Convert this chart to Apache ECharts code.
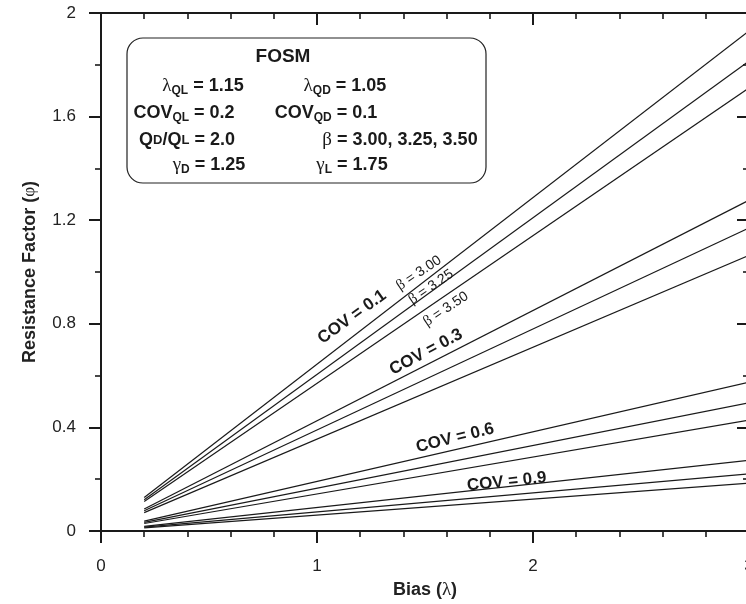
<!DOCTYPE html>
<html><head><meta charset="utf-8">
<script src="https://cdn.jsdelivr.net/npm/echarts@6/dist/echarts.min.js"></script>
<style>html,body{margin:0;padding:0;background:#fff}#c{width:746px;height:604px}</style>
</head><body><div id="c"></div>
<script>
// ---- data ----
const covLevels = ['0.1', '0.3', '0.6', '0.9'];
const betaLevels = ['3.00', '3.25', '3.50'];
const biasPoints = [0.2, 3.0];               // start / end of every curve
// phi at bias = 0.2 for beta = 3.00, 3.25, 3.50
const phiStartCOV01 = [0.129, 0.121, 0.114];
const phiStartCOV03 = [0.085, 0.078, 0.071];
const phiStartCOV06 = [0.038, 0.033, 0.029];
const phiStartCOV09 = [0.018, 0.015, 0.012];
// phi at bias = 3.0 for beta = 3.00, 3.25, 3.50
const phiEndCOV01 = [1.931, 1.814, 1.711];
const phiEndCOV03 = [1.277, 1.170, 1.064];
const phiEndCOV06 = [0.575, 0.495, 0.428];
const phiEndCOV09 = [0.273, 0.221, 0.185];
const xTicks = [0, 1, 2, 3];
const yTicks = ['0', '0.4', '0.8', '1.2', '1.6', '2'];

const phiStart = [phiStartCOV01, phiStartCOV03, phiStartCOV06, phiStartCOV09];
const phiEnd = [phiEndCOV01, phiEndCOV03, phiEndCOV06, phiEndCOV09];

// annotation anchors in data coordinates
const annotations = [
  {text: '{b|COV = 0.1}', x: 1.162, y: 0.826, angle: 36},
  {text: '{g|β}{t| = 3.00}', x: 1.472, y: 0.996, angle: 34},
  {text: '{g|β}{t| = 3.25}', x: 1.528, y: 0.942, angle: 34},
  {text: '{g|β}{t| = 3.50}', x: 1.597, y: 0.857, angle: 34},
  {text: '{b|COV = 0.3}', x: 1.505, y: 0.691, angle: 28},
  {text: '{b|COV = 0.6}', x: 1.639, y: 0.359, angle: 14},
  {text: '{b|COV = 0.9}', x: 1.878, y: 0.190, angle: 6}
];

const FONT = 'Liberation Sans, Arial, Helvetica, sans-serif';
const GREEK = 'Liberation Serif, Times New Roman, serif';
const INK = '#1a1a1a';

const series = [];
covLevels.forEach((cov, i) => {
  betaLevels.forEach((b, j) => {
    series.push({
      name: 'COV ' + cov + ' beta ' + b,
      type: 'line', symbol: 'none', silent: true, animation: false,
      lineStyle: {color: INK, width: 1.2},
      data: [[biasPoints[0], phiStart[i][j]], [biasPoints[1], phiEnd[i][j]]]
    });
  });
});

const axisLine = {show: true, onZero: false, lineStyle: {color: INK, width: 2}};
const chart = echarts.init(document.getElementById('c'), null, {renderer: 'canvas'});
chart.setOption({
  animation: false,
  backgroundColor: '#fff',
  grid: {left: 101, right: -3, top: 13, bottom: 73, containLabel: false, outerBoundsMode: 'none'},
  xAxis: [{
    type: 'value', min: 0, max: 3, interval: 1, position: 'bottom',
    axisLine: axisLine,
    axisTick: {show: true, length: 12, lineStyle: {color: INK, width: 2}},
    minorTick: {show: true, splitNumber: 5, length: 6, lineStyle: {color: INK, width: 1.6}},
    splitLine: {show: false},
    axisLabel: {fontSize: 17, color: '#222', fontFamily: FONT, margin: 27, hideOverlap: false,
      showMinLabel: true, showMaxLabel: true,
      formatter: v => String(xTicks[Math.round(v)])},
    name: '{b|Bias (}{g|λ}{b|)}', nameLocation: 'middle', nameGap: 50,
    nameTextStyle: {rich: {
      b: {fontSize: 18, fontWeight: 'bold', fontFamily: FONT, color: '#222'},
      g: {fontSize: 19, fontFamily: GREEK, color: '#222'}}}
  }, {
    type: 'value', min: 0, max: 3, interval: 1, position: 'top',
    axisLine: axisLine,
    axisTick: {show: true, inside: true, length: 12, lineStyle: {color: INK, width: 2}},
    minorTick: {show: true, splitNumber: 5, length: 6, lineStyle: {color: INK, width: 1.6}},
    splitLine: {show: false}, axisLabel: {show: false}
  }],
  yAxis: [{
    type: 'value', min: 0, max: 2, interval: 0.4, position: 'left',
    axisLine: axisLine,
    axisTick: {show: true, length: 12, lineStyle: {color: INK, width: 2}},
    minorTick: {show: true, splitNumber: 2, length: 6, lineStyle: {color: INK, width: 1.6}},
    splitLine: {show: false},
    axisLabel: {fontSize: 17, color: '#222', fontFamily: FONT, margin: 25,
      formatter: v => yTicks[Math.round(v / 0.4)]},
    name: '{b|Resistance Factor (}{g|φ}{b|)}', nameLocation: 'middle', nameGap: 62, nameRotate: 90,
    nameTextStyle: {rich: {
      b: {fontSize: 18, fontWeight: 'bold', fontFamily: FONT, color: '#222'},
      g: {fontSize: 17, fontFamily: GREEK, color: '#222'}}}
  }, {
    type: 'value', min: 0, max: 2, interval: 0.4, position: 'right',
    axisLine: axisLine,
    axisTick: {show: true, inside: true, length: 12, lineStyle: {color: INK, width: 2}},
    minorTick: {show: true, splitNumber: 2, length: 6, lineStyle: {color: INK, width: 1.6}},
    splitLine: {show: false}, axisLabel: {show: false}
  }],
  series: series
});

// ---- text box and annotations ----
const mainTok = {fontSize: 18, fontWeight: 'bold', fontFamily: FONT, fill: '#1a1a1a', lineHeight: 22, verticalAlign: 'middle'};
const subTok = {fontSize: 12, fontWeight: 'bold', fontFamily: FONT, fill: '#1a1a1a', lineHeight: 10, verticalAlign: 'bottom'};
const smallTok = {fontSize: 13, fontWeight: 'bold', fontFamily: FONT, fill: '#1a1a1a', lineHeight: 22, verticalAlign: 'middle'};
const greekTok = {fontSize: 19, fontFamily: GREEK, fill: '#1a1a1a', lineHeight: 22, verticalAlign: 'middle'};
const boxRich = {m: mainTok, s: subTok, k: smallTok, g: greekTok};

function boxText(str, cx, cy) {
  return {type: 'text', x: cx, y: cy, silent: true, z: 100,
    style: {text: str, rich: boxRich, align: 'center', verticalAlign: 'middle'}};
}

const graphics = [
  {type: 'rect', silent: true, z: 90, shape: {x: 127, y: 38, width: 359, height: 145, r: 16},
    style: {fill: '#fff', stroke: '#222', lineWidth: 1.2}},
  {type: 'text', x: 283, y: 57, silent: true, z: 100,
    style: {text: 'FOSM', font: 'bold 19px ' + FONT, fill: '#1a1a1a', align: 'center', verticalAlign: 'middle'}},
  boxText('{g|λ}{s|QL}{m| = 1.15}', 203, 86),
  boxText('{g|λ}{s|QD}{m| = 1.05}', 345, 86),
  boxText('{m|COV}{s|QL}{m| = 0.2}', 184, 113),
  boxText('{m|COV}{s|QD}{m| = 0.1}', 326, 113),
  boxText('{m|Q}{k|D}{m|/Q}{k|L}{m| = 2.0}', 187, 140),
  boxText('{g|β}{m| = 3.00, 3.25, 3.50}', 400, 140),
  boxText('{g|γ}{s|D}{m| = 1.25}', 209, 165),
  boxText('{g|γ}{s|L}{m| = 1.75}', 352, 165)
];

const annRich = {
  b: {fontSize: 17, fontWeight: 'bold', fontFamily: FONT, fill: '#1a1a1a'},
  g: {fontSize: 15, fontFamily: GREEK, fill: '#1a1a1a'},
  t: {fontSize: 14, fontFamily: FONT, fill: '#1a1a1a'}
};
annotations.forEach(a => {
  const p = chart.convertToPixel({xAxisIndex: 0, yAxisIndex: 0}, [a.x, a.y]);
  graphics.push({type: 'text', x: p[0], y: p[1], rotation: a.angle * Math.PI / 180, silent: true, z: 100,
    style: {text: a.text, rich: annRich, align: 'center', verticalAlign: 'middle'}});
});

chart.setOption({graphic: graphics});
</script>
</body></html>
